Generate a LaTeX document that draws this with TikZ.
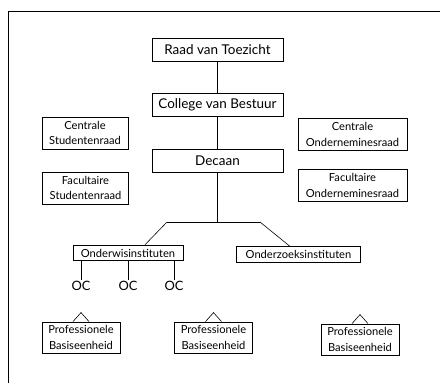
\documentclass[tikz,border=0pt]{standalone}
\usepackage{fontspec}
\setmainfont{Lato}
\usetikzlibrary{positioning}

\begin{document}
\begin{tikzpicture}[
        x=0.03cm, y=0.03cm,
        box/.style={rectangle, draw, line width=0.7pt, minimum width=3.93cm, minimum height=0.69cm, inner sep=1pt, font=\fontsize{11.5}{13}\selectfont},
        sidebox/.style={rectangle, draw, line width=0.7pt, minimum height=0.96cm, inner sep=1pt, align=center, font=\fontsize{9.5}{13}\selectfont},
        instbox/.style={rectangle, draw, line width=0.7pt, minimum height=0.47cm, inner sep=1pt, font=\fontsize{9.5}{11}\selectfont},
        oc/.style={inner sep=1pt, font=\fontsize{11}{12}\selectfont},
        link/.style={line width=0.5pt}
    ]
        \useasboundingbox (0,0) rectangle (440,383);
        % frame
        \draw[line width=0.8pt] (440,372) -- (8,372) -- (8,0);

        \node[box] (raad) at (217.5,333) {Raad van Toezicht};
        \node[box, below=0.93cm of raad] (college) {College van Bestuur};
        \node[box, below=0.96cm of college] (decaan) {Decaan};

        \node[sidebox, minimum width=2.58cm] (cstud) at (85,250) {Centrale\\Studentenraad};
        \node[sidebox, minimum width=2.58cm] (fstud) at (85.5,195) {Facultaire\\Studentenraad};
        \node[sidebox, minimum width=3.27cm] (cor) at (352.5,248.5) {Centrale\\Onderneminesraad};
        \node[sidebox, minimum width=3.27cm] (for) at (352.5,197.5) {Facultaire\\Onderneminesraad};

        \node[instbox, minimum width=3.3cm] (onderwijs) at (128,130) {Onderwisinstituten};
        \node[instbox, minimum width=3.7cm] (onderzoek) at (298.5,128.5) {Onderzoeksinstituten};

        \node[oc] (oc1) at (81,97) {OC};
        \node[oc] (oc2) at (128,97) {OC};
        \node[oc] (oc3) at (174,97) {OC};

        \node[sidebox, minimum width=2.34cm, minimum height=0.93cm] (pb1) at (81,45.5) {Professionele\\Basiseenheid};
        \node[sidebox, minimum width=2.34cm, minimum height=0.93cm] (pb2) at (213.5,45.5) {Professionele\\Basiseenheid};
        \node[sidebox, minimum width=2.34cm, minimum height=0.93cm] (pb3) at (360,43.5) {Professionele\\Basiseenheid};

        \coordinate (jl) at (167,161);
        \coordinate (jr) at (260,161);

        \draw[link] (raad) -- (college);
        \draw[link] (college) -- (decaan);
        \draw[link] (decaan) -- (decaan |- jl);
        \draw[link] (jl) -- (jr);
        \draw[link] (jl) -- ([xshift=0.51cm]onderwijs.north);
        \draw[link] (jr) -- ([xshift=-0.26cm]onderzoek.north);

        \draw[link] (oc1 |- onderwijs.south) -- (oc1);
        \draw[link] (oc2 |- onderwijs.south) -- (oc2);
        \draw[link] (oc3 |- onderwijs.south) -- (oc3);

        \foreach \p in {pb1,pb2,pb3}
            \draw[link] ([xshift=-0.24cm]\p.north) -- ([yshift=0.27cm]\p.north) -- ([xshift=0.24cm]\p.north);
    \end{tikzpicture}
\end{document}
